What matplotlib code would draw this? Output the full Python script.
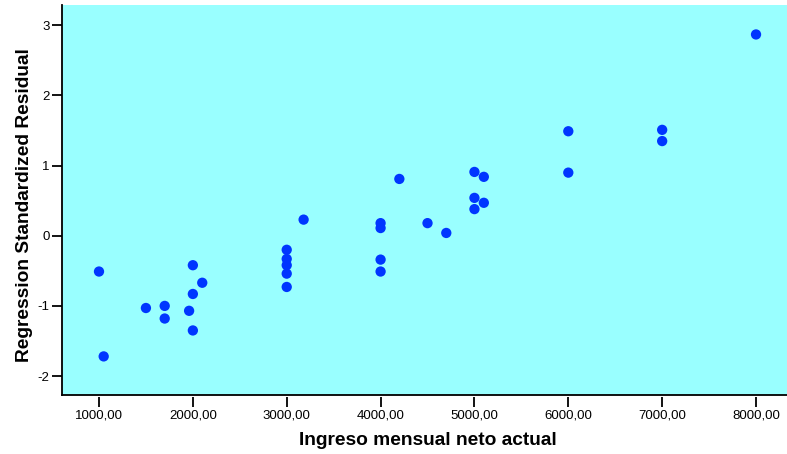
# residuals vs. monthly income scatter (SPSS-style look)

import matplotlib
matplotlib.use('Agg')
import matplotlib.pyplot as plt

plt.rcParams['font.family'] = ['Liberation Sans', 'DejaVu Sans']

# data
ingreso = [1000, 1050, 1500, 1700, 1700, 1960, 2000, 2000, 2000, 2100,
           3000, 3000, 3000, 3000, 3000, 3180,
           4000, 4000, 4000, 4000, 4200, 4500, 4700,
           5000, 5000, 5000, 5100, 5100,
           6000, 6000, 7000, 7000, 8000]
residual = [-0.51, -1.72, -1.03, -1.00, -1.18, -1.07, -0.42, -0.83, -1.35, -0.67,
            -0.20, -0.33, -0.42, -0.54, -0.73, 0.23,
            0.18, 0.11, -0.34, -0.51, 0.81, 0.18, 0.04,
            0.91, 0.54, 0.38, 0.84, 0.47,
            1.49, 0.90, 1.51, 1.35, 2.87]

x_ticks = [1000, 2000, 3000, 4000, 5000, 6000, 7000, 8000]
x_ticklabels = ['1000,00', '2000,00', '3000,00', '4000,00',
                '5000,00', '6000,00', '7000,00', '8000,00']
y_ticks = [-2, -1, 0, 1, 2, 3]

fig = plt.figure(figsize=(7.87, 4.54), dpi=100)
ax = fig.add_axes([0.0788, 0.130, 0.9212, 0.859])
ax.set_facecolor('#99ffff')

ax.scatter(ingreso, residual, s=55, color='#0036ff', edgecolors='none', zorder=3)

ax.set_xlim(606, 8330)
ax.set_ylim(-2.27, 3.29)

for side in ['top', 'right']:
    ax.spines[side].set_visible(False)
ax.spines['left'].set_linewidth(1.3)
ax.spines['bottom'].set_linewidth(1.3)

ax.set_yticks(y_ticks)
ax.set_yticklabels([str(t) for t in y_ticks])
ax.tick_params(axis='y', direction='out', length=7, width=1.3, labelsize=9.5, pad=2)

# x ticks hang a little below the bottom line
ax.set_xticks([])
sec = ax.secondary_xaxis(-0.006)
sec.spines['bottom'].set_visible(False)
sec.set_xticks(x_ticks)
sec.set_xticklabels(x_ticklabels)
sec.tick_params(axis='x', direction='out', length=7.2, width=1.3, labelsize=9.5, pad=1.5)

ax.set_xlabel('Ingreso mensual neto actual', fontsize=13.8, fontweight='bold', va='center')
ax.xaxis.set_label_coords(0.505, -0.118)
ax.set_ylabel('Regression Standardized Residual', fontsize=13.8, fontweight='bold', va='center')
ax.yaxis.set_label_coords(-0.052, 0.487)

plt.savefig('out.png', dpi=100)
